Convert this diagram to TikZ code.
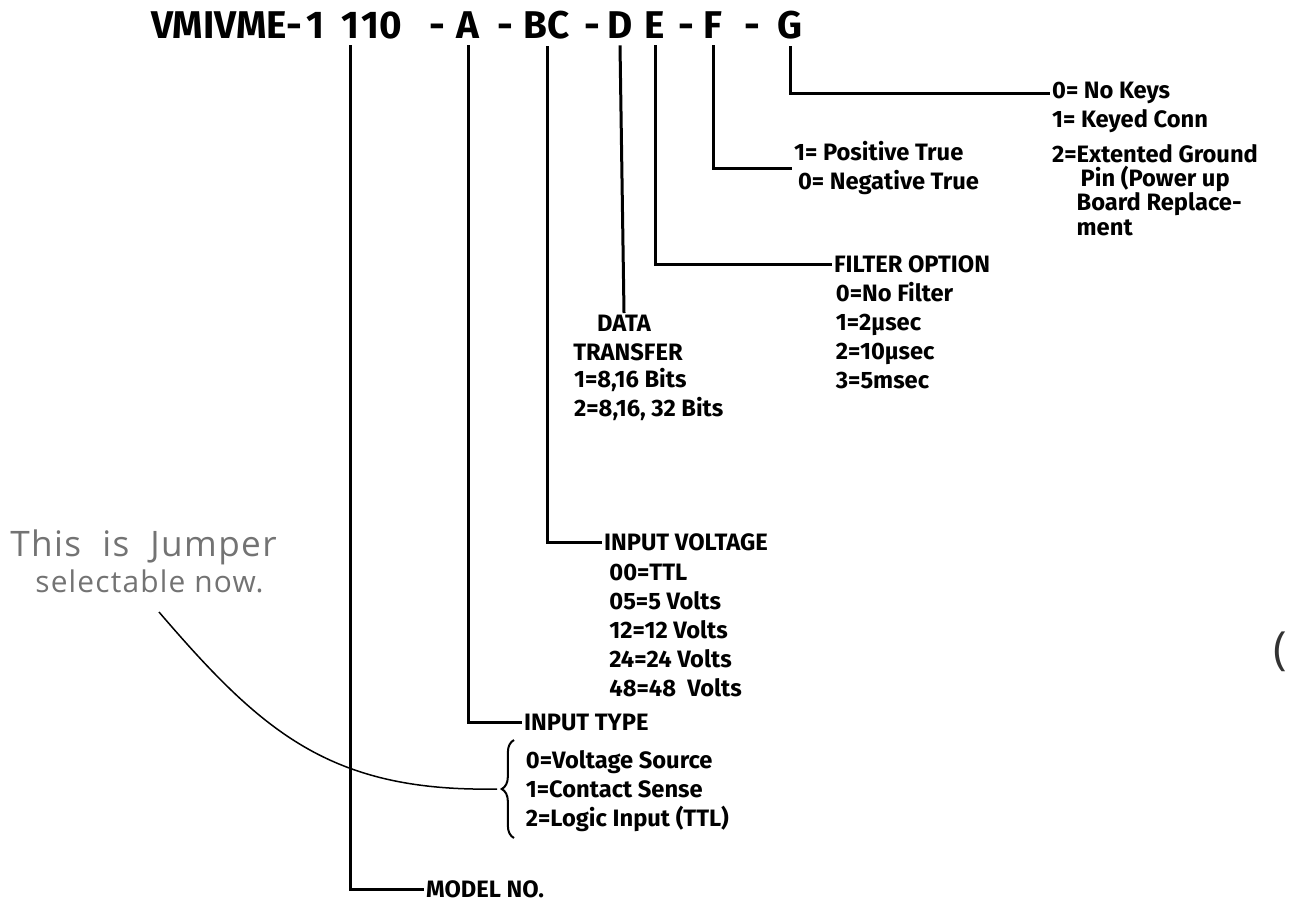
\documentclass[tikz,border=0pt]{standalone}
\usepackage{fontspec}
\setmainfont{Fira Sans}
\newfontfamily\handfont{Open Sans}[LetterSpace=4]
\usetikzlibrary{positioning,decorations.pathreplacing}
\tikzset{
  lead/.style={line width=0.6mm},
  title/.style={font=\bfseries\fontsize{22}{26}\selectfont, inner sep=1pt, anchor=base},
  head/.style={font=\bfseries\fontsize{13.5}{16}\selectfont, anchor=west, inner sep=1pt},
  opts/.style={font=\bfseries\fontsize{13.5}{16.5}\selectfont, align=left, inner sep=1pt},
  hand/.style={font=\handfont\fontsize{17}{21}\selectfont, color=black!55, align=left, inner sep=0pt}
}

\begin{document}
\begin{tikzpicture}[x=0.02cm, y=-0.02cm]
			%%%%% START %%%%%
			\useasboundingbox (0, 0) rectangle (1293, 907);
			
			% part number
			\node[title, anchor=base east] (tv) at (304, 38) {VMIVME-};
			\node[title] (t0) at (315, 38) {1};
			\node[title] (t1) at (350, 38) {1};
			\node[title, anchor=base west] (t10) at (359, 38) {10};
			\node[title] (d1) at (437, 38) {-};
			\node[title] (ta) at (468, 38) {A};
			\node[title] (d2) at (505, 38) {-};
			\node[title] (tbc) at (547, 38) {BC};
			\node[title] (d3) at (592, 38) {-};
			\node[title] (td) at (620, 38) {D};
			\node[title] (te) at (655, 38) {E};
			\node[title] (d4) at (686, 38) {-};
			\node[title] (tf) at (713, 38) {F};
			\node[title] (d5) at (752, 38) {-};
			\node[title] (tg) at (790, 38) {G};
			
			% G : keys
			\node[head] (keys) at (1050, 93) {0= No Keys};
			\node[opts, below right=1pt and 0pt of keys.south west] (keys1) {1= Keyed Conn};
			\node[opts, font=\bfseries\fontsize{13.5}{13.8}\selectfont, below right=4pt and 0pt of keys1.south west] (keys2)
				{2=Extented Ground\\\phantom{2=}\,Pin (Power up\\\phantom{2=}Board Replace-\\\phantom{2=}ment};
			\draw[lead] ([yshift=-3pt]tg.south) |- (keys.west);
			
			% F : polarity
			\node[opts, font=\bfseries\fontsize{13.5}{17}\selectfont, anchor=west] (pol) at (792, 168) {1= Positive True\\\,0= Negative True};
			\draw[lead] ([yshift=-3pt]tf.south) |- (pol.west);
			
			% E : filter
			\node[head] (filt) at (832, 264) {FILTER OPTION};
			\node[opts, below right=3pt and 1pt of filt.south west] (filtopt)
				{0=No Filter\\1=2µsec\\2=10µsec\\3=5msec};
			\draw[lead] ([yshift=-3pt]te.south) |- (filt.west);
			
			% D : data transfer
			\node[opts, align=center, anchor=north] (data) at (624, 313) {DATA\\\,\,TRANSFER};
			\node[opts, below right=2pt and 5pt of data.south west] (dataopt)
				{1=8,16 Bits\\2=8,16, 32 Bits};
			\draw[lead] ([yshift=-3pt]td.south) -- (data.north);
			
			% BC : input voltage
			\node[head] (volt) at (602, 542) {INPUT VOLTAGE};
			\node[opts, below right=5pt and 3pt of volt.south west] (voltopt)
				{00=TTL\\05=5 Volts\\12=12 Volts\\24=24 Volts\\48=48\ \ Volts};
			\draw[lead] ([yshift=-3pt]tbc.south) |- (volt.west);
			
			% A : input type
			\node[head] (itype) at (522, 722) {INPUT TYPE};
			\node[opts, below right=9pt and 1pt of itype.south west] (itypeopt)
				{0=Voltage Source\\1=Contact Sense\\2=Logic Input (TTL)};
			\draw[lead] ([yshift=-3pt]ta.south) |- (itype.west);
			\draw[line width=0.4mm, decorate, decoration={brace, amplitude=7pt}]
				(514, 838) -- (514, 740);
			\coordinate (btip) at (497, 789);
			
			% model number
			\node[head] (model) at (424, 889) {MODEL NO.};
			\draw[lead] ([yshift=-3pt]t1.south) |- (model.west);
			
			% handwritten note
			\node[hand, anchor=north west] (note) at (10, 529)
				{{\fontsize{20}{21}\selectfont This\ \ is\ \ Jumper}\\\hspace*{0.5cm}selectable now.};
			\coordinate (ntail) at (159, 612);
			\draw[line width=0.3mm] (ntail) .. controls (262, 732) and (330, 792) .. (btip);
			\node[hand, color=black!80, font=\handfont\fontsize{26}{30}\selectfont] (paren) at (1280, 652) {(};
			
			%%%%% END %%%%%
\end{tikzpicture}
\end{document}
